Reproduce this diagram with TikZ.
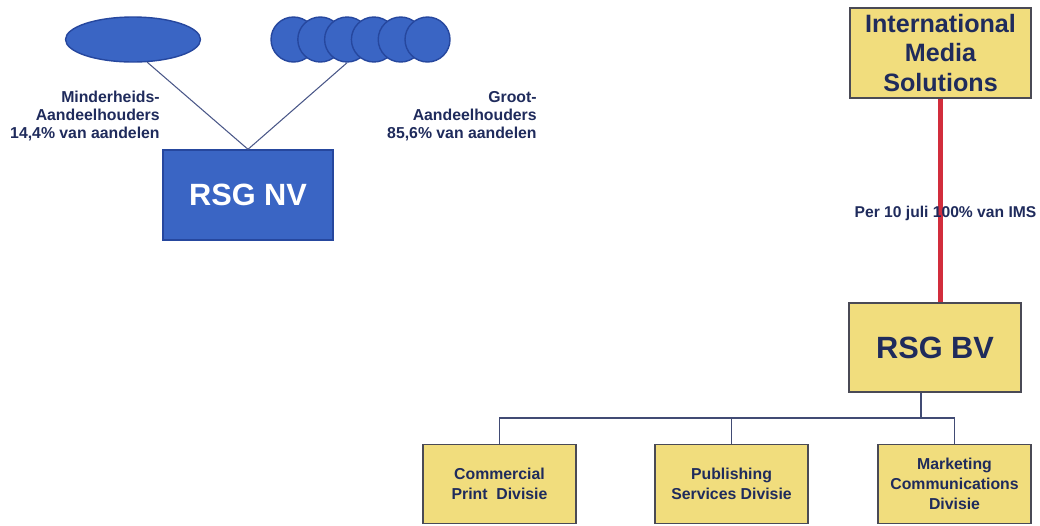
\documentclass[tikz,border=0pt]{standalone}
\usepackage{fontspec}
\setmainfont{Liberation Sans}
\usepackage{tikz}
\usetikzlibrary{shapes.geometric}

\definecolor{rsgblue}{HTML}{3A65C4}
\definecolor{rsgedge}{HTML}{26479E}
\definecolor{rsgnavy}{HTML}{1F2B5C}
\definecolor{rsgyellow}{HTML}{F1DD7D}
\definecolor{rsgframe}{HTML}{4A4A55}
\definecolor{rsgred}{HTML}{D22D3C}
\definecolor{rsgline}{HTML}{4A5788}

\tikzset{
  holder/.style    ={draw=rsgedge, fill=rsgblue, line width=0.8pt, inner sep=0pt},
  nvbox/.style     ={draw=rsgedge, fill=rsgblue, line width=0.8pt, inner sep=0pt,
                     minimum width=3.4cm, minimum height=1.8cm, text=white,
                     font=\fontsize{17.5}{20}\selectfont\bfseries},
  yelbox/.style    ={draw=rsgframe, fill=rsgyellow, line width=0.9pt, inner sep=0pt,
                     text=rsgnavy, align=center},
  divbox/.style    ={yelbox, minimum width=3.06cm, minimum height=1.58cm,
                     font=\fontsize{9}{11.3}\selectfont\bfseries},
  holdertext/.style={anchor=east, align=right, inner sep=0pt, text=rsgnavy,
                     font=\fontsize{9}{10.2}\selectfont\bfseries},
  holderline/.style={draw=rsgline, line width=0.6pt},
  treeline/.style  ={draw=rsgnavy!85, line width=0.7pt},
  imsline/.style   ={draw=rsgred, line width=2.5pt}
}

\begin{document}
\begin{tikzpicture}[x=0.02cm, y=-0.02cm]
        \useasboundingbox (0,0) rectangle (1040,525);                      %

        % aandeelhouders
        \node [holder, ellipse, minimum width=2.7cm, minimum height=0.9cm]
              (minder) at (133,39.5) {};                                     %Minderheids
        \foreach \i in {1,...,6}
          \node [holder, circle, minimum size=0.9cm]
                (c\i) at ({293.5+26.8*(\i-1)},39.5) {};                      %Groot
        \node [holdertext] (mindertxt) at (160,116)
              {Minderheids-\\Aandeelhouders\\14,4\% van aandelen};           %
        \node [holdertext] (groottxt)  at (537,116)
              {Groot-\\Aandeelhouders\\85,6\% van aandelen};                 %

        \node [nvbox] (nv) at (248,195) {RSG NV};                            %
        \draw [holderline] (minder.-58) -- (nv.north);                       %
        \draw [holderline] (c3.south)   -- (nv.north);                       %

        % IMS en RSG BV
        \node [yelbox, minimum width=3.62cm, minimum height=1.8cm,
               font=\fontsize{14.3}{17}\selectfont\bfseries]
              (ims) at (940.5,53) {International\\Media\\Solutions};         %
        \node [yelbox, minimum width=3.44cm, minimum height=1.78cm,
               font=\fontsize{17.5}{20}\selectfont\bfseries]
              (bv) at (935,347.5) {RSG BV};                                  %
        \draw [imsline] (ims.south) -- (ims.south |- bv.north);              %
        \node [inner sep=0pt, text=rsgnavy, font=\fontsize{8.9}{10}\selectfont\bfseries]
              (per) at (945.5,213) {Per 10 juli 100\% van IMS};              %

        % divisies
        \node [divbox] (d1) at (499.5,484) {Commercial\\Print\ \ Divisie};  %
        \node [divbox] (d2) at (731.5,484) {Publishing\\Services Divisie};   %
        \node [divbox] (d3) at (954.5,484) {Marketing\\Communications\\Divisie};%
        \coordinate (split) at (921,418);                                    %
        \draw [treeline] (bv.south -| split) -- (split);                     %
        \draw [treeline] (d1.north) |- (split) -| (d3.north);                %
        \draw [treeline] (d2.north) -- (d2.north |- split);                  %
\end{tikzpicture}
\end{document}
